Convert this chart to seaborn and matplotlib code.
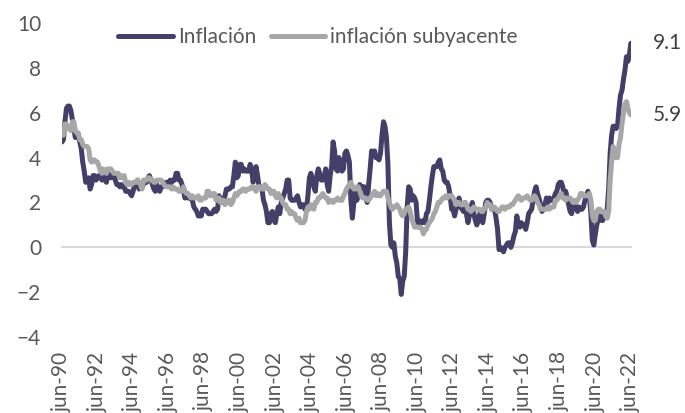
import seaborn as sns
import matplotlib.pyplot as plt
import pandas as pd

# Monthly year-on-year inflation, jun-1990 .. jun-2022 (one row of 12 per year)
inflacion = [
    4.7, 4.8, 5.6, 6.2, 6.3, 6.3, 6.1,
    5.7, 5.3, 4.9, 4.9, 5.0, 4.7, 4.4, 3.8, 3.4, 2.9, 3.0, 3.1,
    2.6, 2.8, 3.2, 3.2, 3.0, 3.1, 3.2, 3.1, 3.0, 3.2, 3.0, 2.9,
    3.3, 3.2, 3.1, 3.2, 3.2, 3.0, 2.8, 2.8, 2.7, 2.8, 2.7, 2.7,
    2.5, 2.5, 2.5, 2.4, 2.3, 2.5, 2.8, 2.9, 3.0, 2.6, 2.7, 2.7,
    2.8, 2.9, 2.9, 3.1, 3.2, 3.0, 2.8, 2.6, 2.5, 2.8, 2.6, 2.5,
    2.7, 2.7, 2.8, 2.9, 2.9, 2.8, 3.0, 2.9, 3.0, 3.0, 3.3, 3.3,
    3.0, 3.0, 2.8, 2.5, 2.2, 2.3, 2.2, 2.2, 2.2, 2.1, 1.8, 1.7,
    1.6, 1.4, 1.4, 1.4, 1.7, 1.7, 1.7, 1.6, 1.5, 1.5, 1.5, 1.6,
    1.7, 1.6, 1.7, 2.3, 2.1, 2.0, 2.1, 2.3, 2.6, 2.6, 2.6, 2.7,
    2.7, 3.2, 3.8, 3.1, 3.2, 3.7, 3.7, 3.4, 3.5, 3.4, 3.4, 3.4,
    3.7, 3.5, 2.9, 3.3, 3.6, 3.2, 2.7, 2.7, 2.6, 2.1, 1.9, 1.6,
    1.1, 1.1, 1.5, 1.6, 1.2, 1.1, 1.5, 1.8, 1.5, 2.0, 2.2, 2.4,
    2.6, 3.0, 3.0, 2.2, 2.1, 2.1, 2.1, 2.2, 2.3, 2.0, 1.8, 1.9,
    1.9, 1.7, 1.7, 2.3, 3.1, 3.3, 3.0, 2.7, 2.5, 3.2, 3.5, 3.3,
    3.0, 3.0, 3.1, 3.5, 2.8, 2.5, 3.2, 3.6, 4.7, 4.3, 3.5, 3.4,
    4.0, 3.6, 3.4, 3.5, 4.2, 4.3, 4.1, 3.8, 2.1, 1.3, 2.0, 2.5,
    2.1, 2.4, 2.8, 2.6, 2.7, 2.7, 2.4, 2.0, 2.8, 3.5, 4.3, 4.1,
    4.3, 4.0, 4.0, 3.9, 4.2, 5.0, 5.6, 5.4, 4.9, 3.7, 1.1, 0.1,
    0.0, 0.2, -0.4, -0.7, -1.3, -1.4, -2.1, -1.5, -1.3, -0.2, 1.8, 2.7,
    2.6, 2.1, 2.3, 2.2, 2.0, 1.1, 1.2, 1.1, 1.1, 1.2, 1.1, 1.5,
    1.6, 2.1, 2.7, 3.2, 3.6, 3.6, 3.6, 3.8, 3.9, 3.5, 3.4, 3.0,
    2.9, 2.9, 2.7, 2.3, 1.7, 1.7, 1.4, 1.7, 2.0, 2.2, 1.8, 1.7,
    1.6, 2.0, 1.5, 1.1, 1.4, 1.8, 2.0, 1.5, 1.2, 1.0, 1.2, 1.5,
    1.6, 1.1, 1.5, 2.0, 2.1, 2.1, 2.0, 1.7, 1.7, 1.7, 1.3, 0.8,
    -0.1, 0.0, -0.1, -0.2, 0.0, 0.1, 0.2, 0.2, 0.0, 0.2, 0.5, 0.7,
    1.4, 1.0, 0.9, 1.1, 1.0, 1.0, 0.8, 1.1, 1.5, 1.6, 1.7, 2.1,
    2.5, 2.7, 2.4, 2.2, 1.9, 1.6, 1.7, 1.9, 2.2, 2.0, 2.2, 2.1,
    2.1, 2.2, 2.4, 2.5, 2.8, 2.9, 2.9, 2.7, 2.3, 2.5, 2.2, 1.9,
    1.6, 1.5, 1.9, 2.0, 1.8, 1.6, 1.8, 1.7, 1.7, 1.8, 2.1, 2.3,
    2.5, 2.3, 1.5, 0.3, 0.1, 0.6, 1.0, 1.3, 1.4, 1.2, 1.2, 1.4,
    1.4, 1.7, 2.6, 4.2, 5.0, 5.4, 5.4, 5.3, 5.4, 6.2, 6.8, 7.0,
    7.5, 7.9, 8.5, 8.3, 8.6, 9.1,
]

subyacente = [
    5.0, 5.0, 5.5, 5.5, 5.3, 5.3, 5.2,
    5.6, 5.6, 5.2, 5.1, 5.1, 4.8, 4.8, 4.6, 4.5, 4.5, 4.5, 4.4,
    3.9, 3.8, 3.9, 3.9, 3.8, 3.8, 3.6, 3.4, 3.3, 3.5, 3.4, 3.3,
    3.5, 3.5, 3.5, 3.4, 3.3, 3.3, 3.3, 3.3, 3.1, 3.2, 3.1, 3.2,
    2.9, 2.8, 2.9, 2.8, 2.8, 2.9, 2.9, 2.9, 3.0, 2.9, 2.8, 2.6,
    3.0, 3.0, 3.0, 3.1, 3.1, 3.0, 3.0, 2.9, 2.9, 3.0, 3.0, 3.0,
    3.0, 2.9, 2.8, 2.7, 2.7, 2.7, 2.7, 2.6, 2.7, 2.6, 2.6, 2.6,
    2.5, 2.5, 2.5, 2.7, 2.5, 2.4, 2.4, 2.3, 2.2, 2.3, 2.2, 2.2,
    2.2, 2.3, 2.1, 2.1, 2.2, 2.2, 2.2, 2.5, 2.5, 2.3, 2.3, 2.4,
    2.4, 2.1, 2.1, 2.2, 2.0, 2.1, 2.1, 1.9, 2.0, 2.1, 2.1, 1.9,
    2.0, 2.2, 2.4, 2.3, 2.4, 2.5, 2.5, 2.6, 2.6, 2.5, 2.6, 2.6,
    2.6, 2.7, 2.7, 2.6, 2.5, 2.7, 2.7, 2.7, 2.6, 2.6, 2.8, 2.7,
    2.6, 2.6, 2.4, 2.5, 2.5, 2.3, 2.2, 2.4, 2.2, 2.2, 2.0, 1.9,
    1.9, 1.7, 1.7, 1.5, 1.6, 1.5, 1.5, 1.3, 1.2, 1.3, 1.1, 1.1,
    1.1, 1.2, 1.6, 1.8, 1.7, 1.9, 1.8, 1.7, 2.0, 2.0, 2.2, 2.2,
    2.3, 2.4, 2.3, 2.2, 2.2, 2.0, 2.1, 2.1, 2.0, 2.1, 2.1, 2.2,
    2.1, 2.1, 2.1, 2.3, 2.4, 2.6, 2.7, 2.8, 2.9, 2.7, 2.6, 2.6,
    2.7, 2.7, 2.5, 2.3, 2.2, 2.2, 2.2, 2.1, 2.1, 2.2, 2.3, 2.4,
    2.5, 2.3, 2.4, 2.3, 2.3, 2.4, 2.5, 2.5, 2.5, 2.2, 2.0, 1.8,
    1.7, 1.8, 1.8, 1.9, 1.8, 1.7, 1.5, 1.4, 1.5, 1.7, 1.7, 1.8,
    1.6, 1.3, 1.1, 0.9, 0.9, 0.9, 0.9, 0.9, 0.8, 0.6, 0.8, 0.8,
    1.0, 1.1, 1.2, 1.3, 1.5, 1.6, 1.8, 2.0, 2.0, 2.1, 2.2, 2.2,
    2.3, 2.2, 2.3, 2.3, 2.3, 2.2, 2.1, 1.9, 2.0, 2.0, 1.9, 1.9,
    1.9, 2.0, 1.9, 1.7, 1.7, 1.6, 1.7, 1.8, 1.7, 1.7, 1.7, 1.7,
    1.6, 1.6, 1.7, 1.8, 2.0, 1.9, 1.9, 1.7, 1.7, 1.8, 1.7, 1.6,
    1.6, 1.7, 1.8, 1.8, 1.7, 1.8, 1.8, 1.8, 1.9, 1.9, 2.0, 2.1,
    2.2, 2.3, 2.2, 2.1, 2.2, 2.2, 2.2, 2.3, 2.2, 2.1, 2.1, 2.2,
    2.3, 2.2, 2.0, 1.9, 1.7, 1.7, 1.7, 1.7, 1.7, 1.8, 1.7, 1.8,
    1.8, 1.8, 2.1, 2.1, 2.2, 2.3, 2.4, 2.2, 2.2, 2.1, 2.2, 2.2,
    2.2, 2.1, 2.0, 2.1, 2.0, 2.1, 2.2, 2.4, 2.4, 2.3, 2.3, 2.3,
    2.3, 2.4, 2.1, 1.4, 1.2, 1.2, 1.6, 1.7, 1.7, 1.6, 1.6, 1.6,
    1.4, 1.3, 1.6, 3.0, 3.8, 4.5, 4.3, 4.0, 4.0, 4.6, 4.9, 5.5,
    6.0, 6.4, 6.5, 6.2, 6.0, 5.9,
]

tick_labels = ["jun-90", "jun-92", "jun-94", "jun-96", "jun-98", "jun-00",
               "jun-02", "jun-04", "jun-06", "jun-08", "jun-10", "jun-12",
               "jun-14", "jun-16", "jun-18", "jun-20", "jun-22"]

series_names = ["Inflación", "inflación subyacente"]
colors = ["#433f69", "#a7a7a7"]
text_gray = "#595959"

df = pd.DataFrame({"mes": range(len(inflacion)),
                   series_names[0]: inflacion,
                   series_names[1]: subyacente})
long_df = df.melt(id_vars="mes", var_name="serie", value_name="valor")

sns.set_style("white")
plt.rcParams["font.family"] = ["Lato", "DejaVu Sans"]
fs = 15

fig = plt.figure(figsize=(6.85, 4.13), dpi=100)
ax = fig.add_axes([0.0905, 0.184, 0.8305, 0.76])

sns.lineplot(data=long_df, x="mes", y="valor", hue="serie",
             hue_order=series_names, palette=colors, linewidth=3.6,
             ax=ax, legend=True)

ax.set_xlim(0, len(inflacion) - 1)
ax.set_ylim(-4, 10)
ax.set_yticks(range(-4, 11, 2))
ax.set_xticks(range(0, len(inflacion), 24))
ax.set_xticklabels(tick_labels)
ax.set_xlabel("")
ax.set_ylabel("")

for s in ["top", "right", "left"]:
    ax.spines[s].set_visible(False)
ax.spines["bottom"].set_position(("data", 0))
ax.spines["bottom"].set_color("#d9d9d9")
ax.spines["bottom"].set_linewidth(1.5)
ax.spines["bottom"].set_zorder(0)

ax.tick_params(axis="y", length=0, pad=15, labelsize=fs, labelcolor=text_gray)
ax.tick_params(axis="x", direction="out", length=5, width=1.5, color="#d9d9d9",
               pad=70, labelsize=fs, labelcolor=text_gray, labelrotation=90)

leg = ax.legend(loc="center", bbox_to_anchor=(0.45, 0.955), ncol=2,
                frameon=False, fontsize=fs, handlelength=2.6,
                handletextpad=0.25, columnspacing=0.7, labelcolor=text_gray)
for line in leg.get_lines():
    line.set_linewidth(3.6)
    line.set_solid_capstyle("round")

for vals in [inflacion, subyacente]:
    ax.annotate(f"{vals[-1]:.1f}", xy=(len(vals) - 1, vals[-1]),
                xytext=(16, 0), textcoords="offset points",
                va="center", ha="left", fontsize=fs, color="#404040",
                annotation_clip=False)

fig.savefig("out.png", dpi=100)
